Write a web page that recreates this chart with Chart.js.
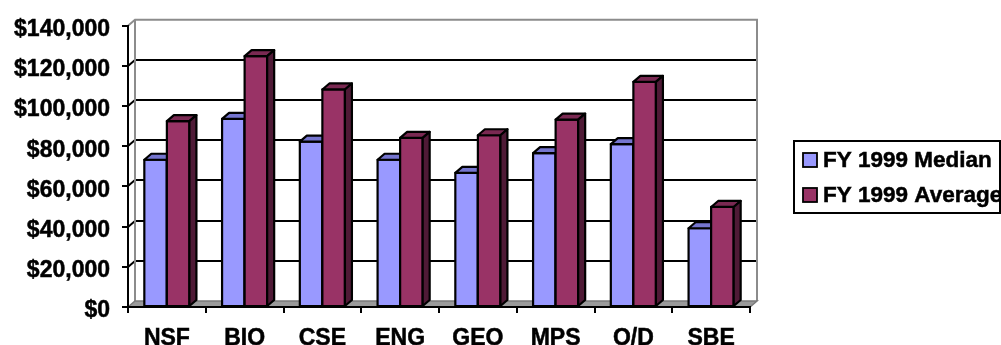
<!DOCTYPE html>
<html>
<head>
<meta charset="utf-8">
<title>FY 1999 Median and Average</title>
<script src="https://cdn.jsdelivr.net/npm/chart.js@4/dist/chart.umd.min.js"></script>
<style>
  html, body { margin: 0; padding: 0; background: #ffffff; }
  canvas { display: block; }
</style>
</head>
<body>
<canvas id="chart" width="1001" height="345"></canvas>
<script>
// Directorates along the category axis
const categories = ['NSF', 'BIO', 'CSE', 'ENG', 'GEO', 'MPS', 'O/D', 'SBE'];

// FY 1999 values per directorate (dollars)
const medianValues  = [73300, 93700, 82300, 73300, 66800, 76600, 81100, 39200];
const averageValues = [92500, 124900, 108300, 84200, 85500, 93300, 112100, 49800];

// Value axis tick labels, from $0 up to $140,000
const valueTickLabels = ['$0', '$20,000', '$40,000', '$60,000', '$80,000', '$100,000', '$120,000', '$140,000'];

const seriesLabels = ['FY 1999 Median', 'FY 1999 Average'];

// Face colours for each series: front, top, side
const faceColors = [
  { front: '#9999FF', top: '#7575CF', side: '#5C5C99' },
  { front: '#993366', top: '#7A2952', side: '#4F1A36' }
];

// Depth of the 3-D box (pixels to the right / upwards)
const DEPTH_X = 7;
const DEPTH_Y = 6;
const FONT_FAMILY = '"Liberation Sans", Arial, Helvetica, sans-serif';
const LABEL_FONT = { family: FONT_FAMILY, size: 23, weight: 'bold' };

function poly(ctx, pts, fill, stroke, lw) {
  ctx.beginPath();
  ctx.moveTo(pts[0][0], pts[0][1]);
  for (let i = 1; i < pts.length; i++) ctx.lineTo(pts[i][0], pts[i][1]);
  ctx.closePath();
  if (fill) { ctx.fillStyle = fill; ctx.fill(); }
  if (stroke) { ctx.strokeStyle = stroke; ctx.lineWidth = lw; ctx.stroke(); }
}

// Walls, floor and gridlines of the 3-D plot box
const boxPlugin = {
  id: 'box3d',
  beforeDraw(chart) {
    const { ctx, chartArea: a, scales } = chart;
    const y = scales.y;
    const L = a.left, R = a.right, T = a.top, B = a.bottom;
    ctx.save();
    ctx.lineJoin = 'miter';
    // back wall
    poly(ctx, [[L + DEPTH_X, T - DEPTH_Y], [R + DEPTH_X, T - DEPTH_Y], [R + DEPTH_X, B - DEPTH_Y], [L + DEPTH_X, B - DEPTH_Y]], '#ffffff', null, 0);
    // side wall
    poly(ctx, [[L, T], [L + DEPTH_X, T - DEPTH_Y], [L + DEPTH_X, B - DEPTH_Y], [L, B]], '#ffffff', null, 0);
    // gridlines (back wall + side wall)
    ctx.strokeStyle = '#000000';
    ctx.lineWidth = 2;
    y.ticks.forEach(t => {
      if (t.value <= y.min || t.value >= y.max) return;
      const py = Math.round(y.getPixelForValue(t.value));
      ctx.beginPath();
      ctx.moveTo(L, py);
      ctx.lineTo(L + DEPTH_X, py - DEPTH_Y);
      ctx.lineTo(R + DEPTH_X, py - DEPTH_Y);
      ctx.stroke();
    });
    // wall outline
    ctx.strokeStyle = '#8C8C8C';
    ctx.lineWidth = 2;
    ctx.beginPath();
    ctx.moveTo(L, T);
    ctx.lineTo(L + DEPTH_X, T - DEPTH_Y);
    ctx.lineTo(R + DEPTH_X, T - DEPTH_Y);
    ctx.lineTo(R + DEPTH_X, B - DEPTH_Y);
    ctx.moveTo(L + DEPTH_X, T - DEPTH_Y);
    ctx.lineTo(L + DEPTH_X, B - DEPTH_Y);
    ctx.stroke();
    // floor
    poly(ctx, [[L, B], [R, B], [R + DEPTH_X, B - DEPTH_Y], [L + DEPTH_X, B - DEPTH_Y]], '#9A9A9A', '#7A7A7A', 1.5);
    ctx.restore();
  },
  // columns drawn as boxes: front, top and side faces, category by category
  beforeDatasetsDraw(chart) {
    const { ctx } = chart;
    const metas = chart.data.datasets.map((d, i) => chart.getDatasetMeta(i));
    ctx.save();
    ctx.lineJoin = 'round';
    for (let j = 0; j < categories.length; j++) {
      metas.forEach((meta, i) => {
        const el = meta.data[j];
        if (!el) return;
        const c = faceColors[i];
        const l = el.x - el.width / 2, r = el.x + el.width / 2;
        const t = el.y, b = el.base;
        poly(ctx, [[l, t], [r, t], [r, b], [l, b]], c.front, '#000000', 2.2);
        poly(ctx, [[l, t], [l + DEPTH_X, t - DEPTH_Y], [r + DEPTH_X, t - DEPTH_Y], [r, t]], c.top, '#000000', 2.2);
        poly(ctx, [[r, t], [r + DEPTH_X, t - DEPTH_Y], [r + DEPTH_X, b - DEPTH_Y], [r, b]], c.side, '#000000', 2.2);
      });
    }
    ctx.restore();
    return false;
  },
  // boxed legend on the right
  afterDraw(chart) {
    const { ctx } = chart;
    const bx = 794, by = 141, bw = 206, bh = 72;
    ctx.save();
    ctx.fillStyle = '#ffffff';
    ctx.fillRect(bx, by, bw, bh);
    ctx.beginPath();
    ctx.rect(bx, by, bw - 1, bh);
    ctx.clip();
    chart.data.datasets.forEach((ds, i) => {
      const base = by + 26 + i * 35;
      ctx.fillStyle = faceColors[i].front;
      ctx.fillRect(803, base - 14, 14, 14);
      ctx.strokeStyle = '#000000';
      ctx.lineWidth = 1.8;
      ctx.strokeRect(803, base - 14, 14, 14);
      ctx.fillStyle = '#000000';
      ctx.strokeStyle = '#000000';
      ctx.lineWidth = 0.5;
      ctx.font = 'bold 22.5px ' + FONT_FAMILY;
      ctx.textBaseline = 'alphabetic';
      ctx.textAlign = 'left';
      ctx.fillText(ds.label, 823, base);
      ctx.strokeText(ds.label, 823, base);
    });
    ctx.restore();
    ctx.save();
    ctx.strokeStyle = '#000000';
    ctx.lineWidth = 2;
    ctx.strokeRect(bx, by, bw, bh);
    ctx.restore();
  }
};

new Chart(document.getElementById('chart'), {
  type: 'bar',
  data: {
    labels: categories,
    datasets: [
      { label: seriesLabels[0], data: medianValues, backgroundColor: faceColors[0].front, borderColor: '#000', borderWidth: 2 },
      { label: seriesLabels[1], data: averageValues, backgroundColor: faceColors[1].front, borderColor: '#000', borderWidth: 2 }
    ]
  },
  options: {
    responsive: false,
    animation: false,
    devicePixelRatio: 1,
    datasets: { bar: { categoryPercentage: 0.58, barPercentage: 1.0 } },
    layout: { padding: { left: 0, right: 251, top: 20, bottom: 0 } },
    plugins: { legend: { display: false }, tooltip: { enabled: false } },
    scales: {
      x: {
        type: 'category',
        offset: true,
        grid: { display: true, offset: true, drawOnChartArea: false, drawTicks: true, tickLength: 6, tickColor: '#000000', lineWidth: 2 },
        border: { display: true, color: '#000000', width: 2 },
        ticks: { color: '#000000', padding: 11.5, maxRotation: 0, autoSkip: false, font: LABEL_FONT, textStrokeColor: '#000000', textStrokeWidth: 0.5 },
        afterFit(scale) { scale.height = 38; }
      },
      y: {
        min: 0,
        max: 140000,
        grid: { display: true, drawOnChartArea: false, drawTicks: true, tickLength: 6, tickColor: '#000000', lineWidth: 2 },
        border: { display: true, color: '#000000', width: 2 },
        ticks: {
          stepSize: 20000,
          color: '#000000',
          padding: 12,
          labelOffset: 4,
          font: LABEL_FONT,
          textStrokeColor: '#000000',
          textStrokeWidth: 0.5,
          callback: (value, index) => valueTickLabels[index]
        },
        afterFit(scale) { scale.width = 128; }
      }
    }
  },
  plugins: [boxPlugin]
});
</script>
</body>
</html>
